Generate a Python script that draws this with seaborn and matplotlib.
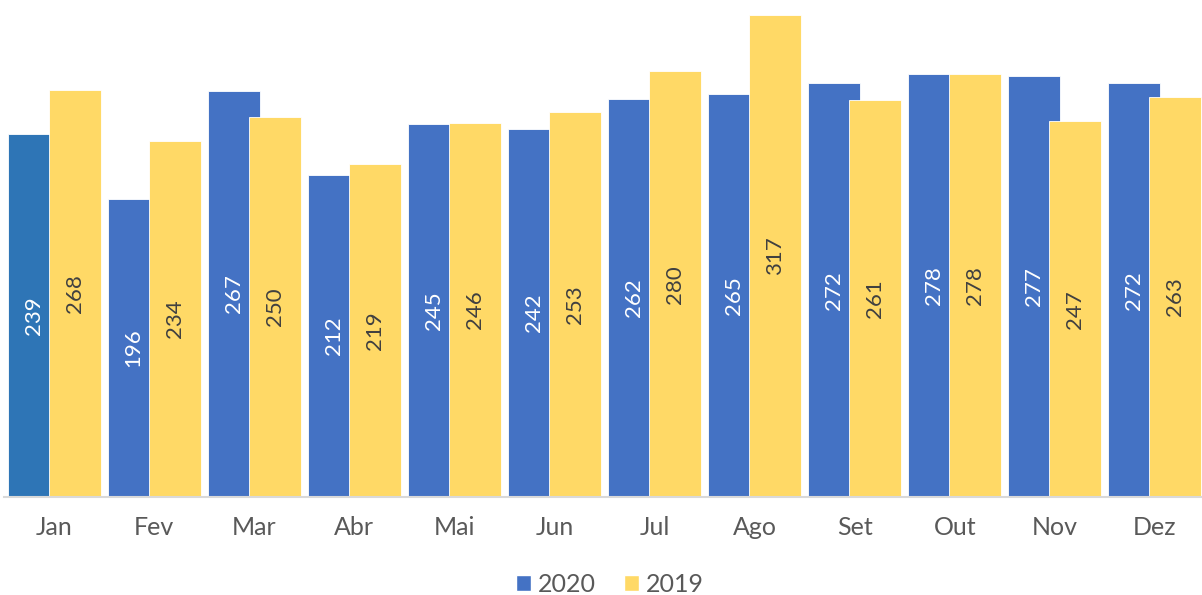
import pandas as pd
import matplotlib
matplotlib.use("Agg")
import matplotlib.pyplot as plt
import seaborn as sns
from matplotlib.patches import Patch

# dados mensais (2020 x 2019)
meses = ["Jan", "Fev", "Mar", "Abr", "Mai", "Jun", "Jul", "Ago", "Set", "Out", "Nov", "Dez"]
valores_2020 = [239, 196, 267, 212, 245, 242, 262, 265, 272, 278, 277, 272]
valores_2019 = [268, 234, 250, 219, 246, 253, 280, 317, 261, 278, 247, 263]
anos = ["2020", "2019"]

AZUL = "#4472C4"
AZUL_JAN = "#2E75B6"
AMARELO = "#FFD966"
CINZA = "#595959"

sns.set_theme(style="white")
plt.rcParams["font.family"] = ["Lato", "DejaVu Sans"]

df = pd.DataFrame({
    "mes": meses * 2,
    "valor": valores_2020 + valores_2019,
    "ano": ["2020"] * len(meses) + ["2019"] * len(meses),
})

fig = plt.figure(figsize=(12.02, 5.95), dpi=100)
ax = fig.add_axes([4 / 1202, 98 / 595, 1201 / 1202, 482 / 595])

sns.barplot(data=df, x="mes", y="valor", hue="ano", hue_order=anos,
            palette={"2020": AZUL, "2019": AMARELO}, width=0.82,
            saturation=1, edgecolor="white", linewidth=0.6, legend=False, ax=ax)

# barras sobrepostas (estilo Excel): alarga cada barra em torno do centro
largura = 0.52
for cont, ano in zip(ax.containers, anos):
    for i, bar in enumerate(cont):
        cx = bar.get_x() + bar.get_width() / 2
        bar.set_x(cx - largura / 2)
        bar.set_width(largura)
        if ano == "2020" and i == 0:
            bar.set_facecolor(AZUL_JAN)
    cor = "white" if ano == "2020" else "#404040"
    ax.bar_label(cont, fmt="%d", label_type="center", rotation=90,
                 color=cor, fontsize=16)

ax.set_xlim(-0.5, 11.5)
ax.set_ylim(0, 317)
ax.set_xlabel("")
ax.set_ylabel("")
ax.set_yticks([])
ax.tick_params(axis="x", length=0, pad=14, labelsize=18, labelcolor=CINZA)
for s in ["top", "right", "left"]:
    ax.spines[s].set_visible(False)
ax.spines["bottom"].set_color("#D9D9D9")
ax.spines["bottom"].set_linewidth(1.5)

handles = [Patch(facecolor=AZUL, label="2020"), Patch(facecolor=AMARELO, label="2019")]
leg = fig.legend(handles=handles, loc="center", bbox_to_anchor=(610 / 1202, 1 - 584 / 595),
                 ncol=2, frameon=False, fontsize=18, handlelength=0.6, handleheight=0.6,
                 handletextpad=0.3, columnspacing=1.1)
for t in leg.get_texts():
    t.set_color(CINZA)

fig.savefig("out.png", dpi=100)
